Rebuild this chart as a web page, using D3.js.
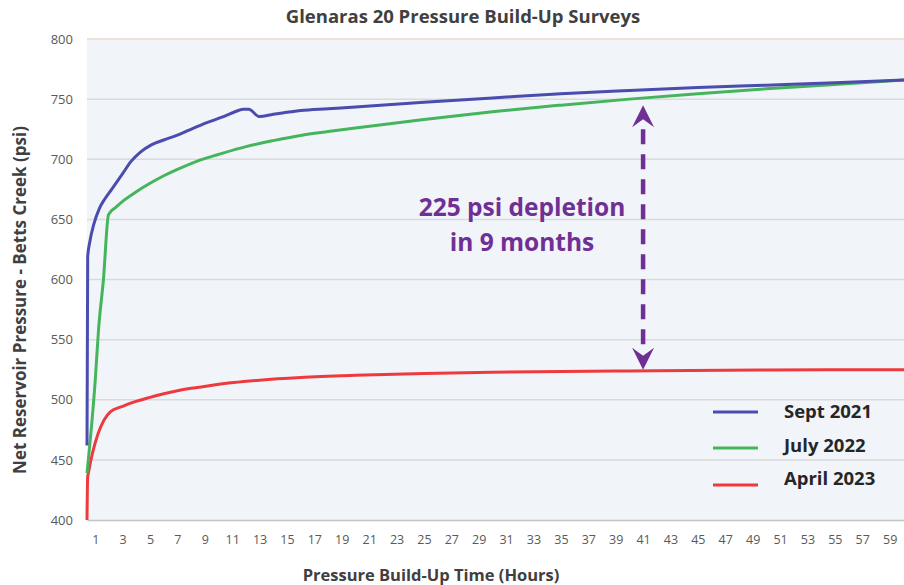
<!DOCTYPE html>
<html>
<head>
<meta charset="utf-8">
<script src="https://cdn.jsdelivr.net/npm/d3@7"></script>
<style>
  body { margin: 0; background: #fff; }
  text { font-family: "Open Sans", "DejaVu Sans", sans-serif; }
</style>
</head>
<body>
<div id="chart"></div>
<script>
// Build-up time in hours, pressure in psi.
var sept2021Hours = [0.4, 0.45, 0.6, 0.9, 1.3, 1.7, 2.2, 3, 3.6, 4.3, 5.1, 6, 7, 7.9, 9.15, 10.5, 11.2, 11.8, 12.2, 13, 14, 15, 16, 18, 20, 25, 30, 35, 40, 45, 50, 55, 60.05];
var sept2021Psi = [462, 619, 631, 646, 659, 667, 675, 688, 698, 706, 712, 716, 720, 724.5, 730.5, 736, 739.5, 741.5, 741.5, 735.5, 737.5, 739, 740.5, 742, 743.5, 747.5, 751, 754.5, 757.2, 759.6, 761.6, 763.6, 766];

var july2022Hours = [0.4, 1, 1.24, 1.6, 1.97, 2.5, 3, 4, 5, 5.8, 7, 8.7, 10, 12, 14, 16, 18, 20, 25, 30, 35, 40, 45, 50, 55, 60.05];
var july2022Psi = [439, 516, 558, 600, 654, 660, 665, 673, 680, 685, 691.5, 699.5, 704, 710.5, 715.5, 719.8, 723, 726, 733, 739.5, 745, 750, 754.5, 758.6, 762.2, 766];

var april2023Hours = [0.4, 0.45, 2.1, 3, 3.8, 5, 6, 7, 8, 9.2, 11.1, 13, 16, 20, 25, 30, 40, 50, 60.05];
var april2023Psi = [400, 436, 490, 494.5, 498, 502, 505, 507.5, 509.5, 511.5, 514.3, 516.3, 518.5, 520.3, 521.8, 522.9, 524, 524.8, 525];

var seriesNames = ["Sept 2021", "July 2022", "April 2023"];
var seriesColors = ["#4a4cae", "#45b55c", "#ee3a3e"];

var xTicks = d3.range(1, 60, 2);
var yTicks = [400, 450, 500, 550, 600, 650, 700, 750, 800];

// depletion arrow: hour and the two pressures it spans
var arrowHour = 41;
var arrowTop = 745;
var arrowBottom = 525;

var W = 904, H = 585;
var margin = {top: 39, right: 0, bottom: 65, left: 87};

var svg = d3.select("#chart").append("svg")
  .attr("width", W)
  .attr("height", H);

var x = d3.scaleLinear().domain([0.4, 60.05]).range([margin.left, W - margin.right]);
var y = d3.scaleLinear().domain([400, 800]).range([H - margin.bottom, margin.top]);

svg.append("rect")
  .attr("x", margin.left)
  .attr("y", margin.top)
  .attr("width", W - margin.right - margin.left)
  .attr("height", H - margin.bottom - margin.top)
  .attr("fill", "#f1f4f9");

// gridlines
svg.append("g")
  .selectAll("line")
  .data(yTicks.slice(1))
  .enter().append("line")
  .attr("x1", margin.left)
  .attr("x2", W)
  .attr("y1", function(d) { return y(d); })
  .attr("y2", function(d) { return y(d); })
  .attr("stroke", function(d) { return d === 800 ? "#ead9d2" : "#d9dadd"; })
  .attr("stroke-width", 1.5);

var yAxis = svg.append("g")
  .attr("transform", "translate(" + margin.left + ",0)")
  .call(d3.axisLeft(y).tickValues(yTicks).tickSize(0).tickPadding(14));
yAxis.select(".domain").remove();
yAxis.selectAll("text")
  .attr("fill", "#595959")
  .style("font-size", "13px");

var xAxis = svg.append("g")
  .attr("transform", "translate(0," + y(400) + ")")
  .call(d3.axisBottom(x).tickValues(xTicks).tickSize(0).tickPadding(15));
xAxis.select(".domain")
  .attr("stroke", "#c4c4c4")
  .attr("stroke-width", 1.5);
xAxis.selectAll("text")
  .attr("fill", "#595959")
  .style("font-size", "12.5px");

var series = [
  {hours: sept2021Hours, psi: sept2021Psi},
  {hours: july2022Hours, psi: july2022Psi},
  {hours: april2023Hours, psi: april2023Psi}
];

var line = d3.line()
  .x(function(d) { return x(d[0]); })
  .y(function(d) { return y(d[1]); })
  .curve(d3.curveMonotoneX);

// draw the later surveys first so the blue sits on top like the original
[2, 1, 0].forEach(function(i) {
  var s = series[i];
  var pts = s.hours.map(function(h, j) { return [h, s.psi[j]]; });
  svg.append("path")
    .datum(pts)
    .attr("d", line)
    .attr("fill", "none")
    .attr("stroke", seriesColors[i])
    .attr("stroke-width", 3)
    .attr("stroke-linejoin", "round");
});

// legend
var legend = svg.append("g");
seriesNames.forEach(function(name, i) {
  var ly = [412, 448, 485][i];
  legend.append("line")
    .attr("x1", 713).attr("x2", 758)
    .attr("y1", ly).attr("y2", ly)
    .attr("stroke", seriesColors[i])
    .attr("stroke-width", 3);
  legend.append("text")
    .attr("x", 784)
    .attr("y", [412, 446, 479][i])
    .attr("dy", "0.35em")
    .attr("fill", "#262626")
    .style("font-size", "18.5px")
    .style("font-weight", "bold")
    .text(name);
});

// annotation arrow
var purple = "#702f94";
var ax = x(arrowHour);
var yTop = y(arrowTop), yBot = y(arrowBottom);
svg.append("line")
  .attr("x1", ax).attr("x2", ax)
  .attr("y1", yTop + 24).attr("y2", yBot - 22)
  .attr("stroke", purple)
  .attr("stroke-width", 4.5)
  .attr("stroke-dasharray", "15,10");

function head(tipY, dir) {
  // dir = 1 points up, -1 points down
  var b = tipY + dir * 22, n = tipY + dir * 14;
  return "M" + ax + "," + tipY +
    "L" + (ax + 11) + "," + b +
    "L" + ax + "," + n +
    "L" + (ax - 11) + "," + b + "Z";
}
svg.append("path").attr("d", head(yTop, 1)).attr("fill", purple);
svg.append("path").attr("d", head(yBot, -1)).attr("fill", purple);

svg.append("text")
  .attr("x", 522).attr("y", 207)
  .attr("dy", "0.35em")
  .attr("text-anchor", "middle")
  .attr("fill", purple)
  .style("font-size", "24.5px")
  .style("font-weight", "bold")
  .text("225 psi depletion");
svg.append("text")
  .attr("x", 522).attr("y", 242)
  .attr("dy", "0.35em")
  .attr("text-anchor", "middle")
  .attr("fill", purple)
  .style("font-size", "24.5px")
  .style("font-weight", "bold")
  .text("in 9 months");

// titles
svg.append("text")
  .attr("x", 463).attr("y", 17)
  .attr("dy", "0.35em")
  .attr("text-anchor", "middle")
  .attr("fill", "#404040")
  .style("font-size", "18.5px")
  .style("font-weight", "bold")
  .text("Glenaras 20 Pressure Build-Up Surveys");

svg.append("text")
  .attr("x", 431).attr("y", 575)
  .attr("dy", "0.35em")
  .attr("text-anchor", "middle")
  .attr("fill", "#404040")
  .style("font-size", "16.5px")
  .style("font-weight", "bold")
  .text("Pressure Build-Up Time (Hours)");

svg.append("text")
  .attr("transform", "translate(20,300) rotate(-90)")
  .attr("dy", "0.35em")
  .attr("text-anchor", "middle")
  .attr("fill", "#404040")
  .style("font-size", "17px")
  .style("font-weight", "bold")
  .text("Net Reservoir Pressure - Betts Creek (psi)");
</script>
</body>
</html>
